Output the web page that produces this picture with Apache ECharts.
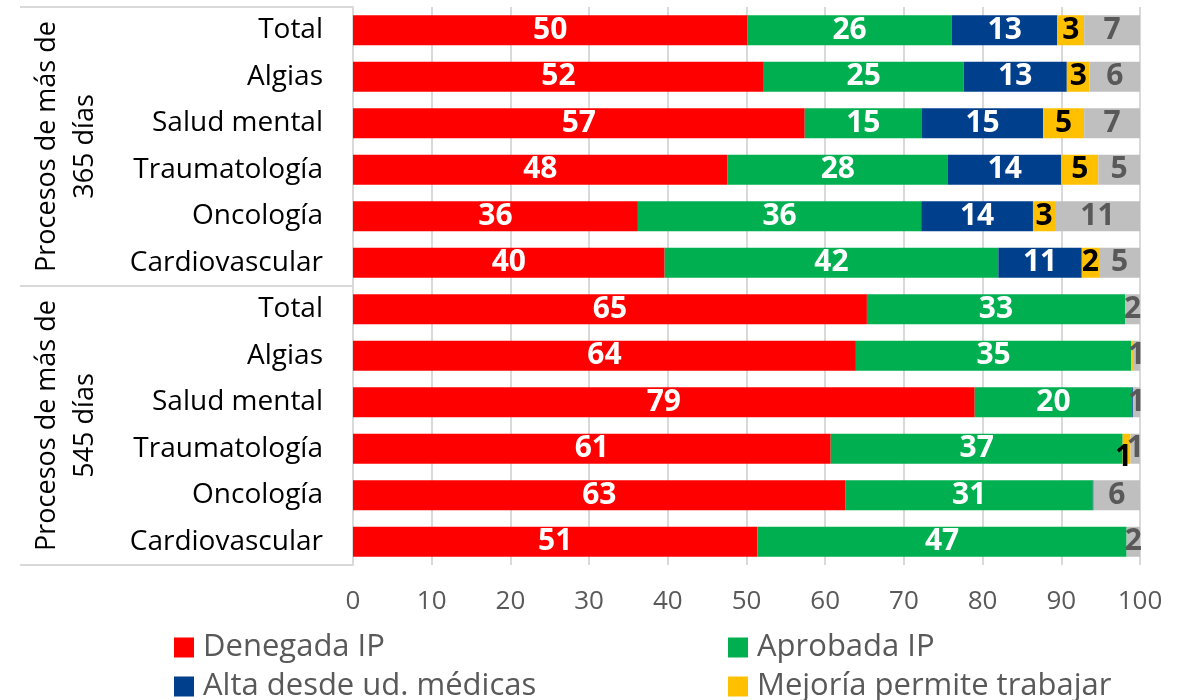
<!DOCTYPE html>
<html>
<head>
<meta charset="utf-8">
<script src="https://cdn.jsdelivr.net/npm/echarts@6/dist/echarts.min.js"></script>
<style>
  html, body { margin: 0; padding: 0; background: #fff; }
  #main { width: 1187px; height: 700px; }
</style>
</head>
<body>
<div id="main"></div>
<script>
// categories, top to bottom
var cats = ['Total', 'Algias', 'Salud mental', 'Traumatología', 'Oncología', 'Cardiovascular',
            'Total', 'Algias', 'Salud mental', 'Traumatología', 'Oncología', 'Cardiovascular'];
var groups = ['Procesos de más de\n365 días', 'Procesos de más de\n545 días'];

// percentages
var denegada = [50.1, 52.2, 57.4, 47.6, 36.2, 39.6, 65.3, 63.9, 79.0, 60.7, 62.6, 51.4];
var aprobada = [26.0, 25.4, 14.9, 28.0, 36.0, 42.4, 32.8, 35.0, 20.0, 37.1, 31.4, 46.9];
var alta     = [13.4, 13.1, 15.4, 14.4, 14.2, 10.6, 0, 0, 0.1, 0, 0.1, 0];
var mejoria  = [3.4, 2.9, 5.2, 4.7, 2.8, 2.2, 0, 0.2, 0, 1.0, 0, 0];
var otros    = [7.1, 6.4, 7.1, 5.3, 10.8, 5.2, 1.9, 0.9, 0.9, 1.2, 5.9, 1.7];

var FONT = '"Open Sans", "Noto Sans", sans-serif';

var chart = echarts.init(document.getElementById('main'));

function barSeries(name, data, color, labelColor) {
    return {
        name: name,
        type: 'bar',
        stack: 'total',
        barWidth: 30,
        data: data.map(function (v) {
            // the tiny yellow piece gets its label pushed down a bit
            if (name === 'Mejoría permite trabajar' && v > 0.5 && v < 1.5) {
                return { value: v, label: { offset: [-3, 9] } };
            }
            return v;
        }),
        itemStyle: { color: color },
        label: {
            show: true,
            position: 'inside',
            color: labelColor,
            fontFamily: FONT,
            fontWeight: 'bold',
            fontSize: 30,
            formatter: function (p) {
                var r = Math.round(p.value);
                return r ? String(r) : '';
            }
        }
    };
}

function legendCol(names, left) {
    return {
        data: names,
        orient: 'vertical',
        left: left,
        top: 627,
        height: 120,
        icon: 'rect',
        itemWidth: 20,
        itemHeight: 20,
        itemGap: 8,
        textStyle: { color: '#595959', fontFamily: FONT, fontSize: 31, padding: [0, 0, 0, 4] }
    };
}

var option = {
    animation: false,
    grid: { left: 353, right: 47, top: 7, bottom: 135 },
    xAxis: {
        type: 'value',
        min: 0,
        max: 100,
        interval: 10,
        axisLine: { show: false },
        axisTick: { show: false },
        splitLine: { lineStyle: { color: '#d9d9d9', width: 2 } },
        axisLabel: { color: '#595959', fontFamily: FONT, fontSize: 26, margin: 24 }
    },
    yAxis: [
        {
            type: 'category',
            data: cats,
            inverse: true,
            axisLine: { show: true, lineStyle: { color: '#d9d9d9', width: 2 } },
            axisTick: { show: false },
            axisLabel: { color: '#000', fontFamily: FONT, fontSize: 28, margin: 30, interval: 0 }
        },
        {
            type: 'category',
            data: groups,
            inverse: true,
            position: 'left',
            offset: 333,
            axisLine: { show: false },
            axisTick: { show: true, inside: true, length: 333, lineStyle: { color: '#d9d9d9', width: 2 } },
            axisLabel: {
                inside: true,
                rotate: 90,
                margin: 8,
                interval: 0,
                color: '#000',
                fontFamily: FONT,
                fontSize: 27,
                lineHeight: 38
            }
        }
    ],
    legend: [
        legendCol(['Denegada IP', 'Alta desde ud. médicas'], 169),
        legendCol(['Aprobada IP', 'Mejoría permite trabajar'], 723)
    ],
    series: [
        barSeries('Denegada IP', denegada, '#ff0000', '#fff'),
        barSeries('Aprobada IP', aprobada, '#00b050', '#fff'),
        barSeries('Alta desde ud. médicas', alta, '#003f8c', '#fff'),
        barSeries('Mejoría permite trabajar', mejoria, '#ffc000', '#000'),
        barSeries('Otros', otros, '#bfbfbf', '#595959')
    ]
};

chart.setOption(option);
window.onresize = function () {
    chart.resize();
};
</script>
</body>
</html>
